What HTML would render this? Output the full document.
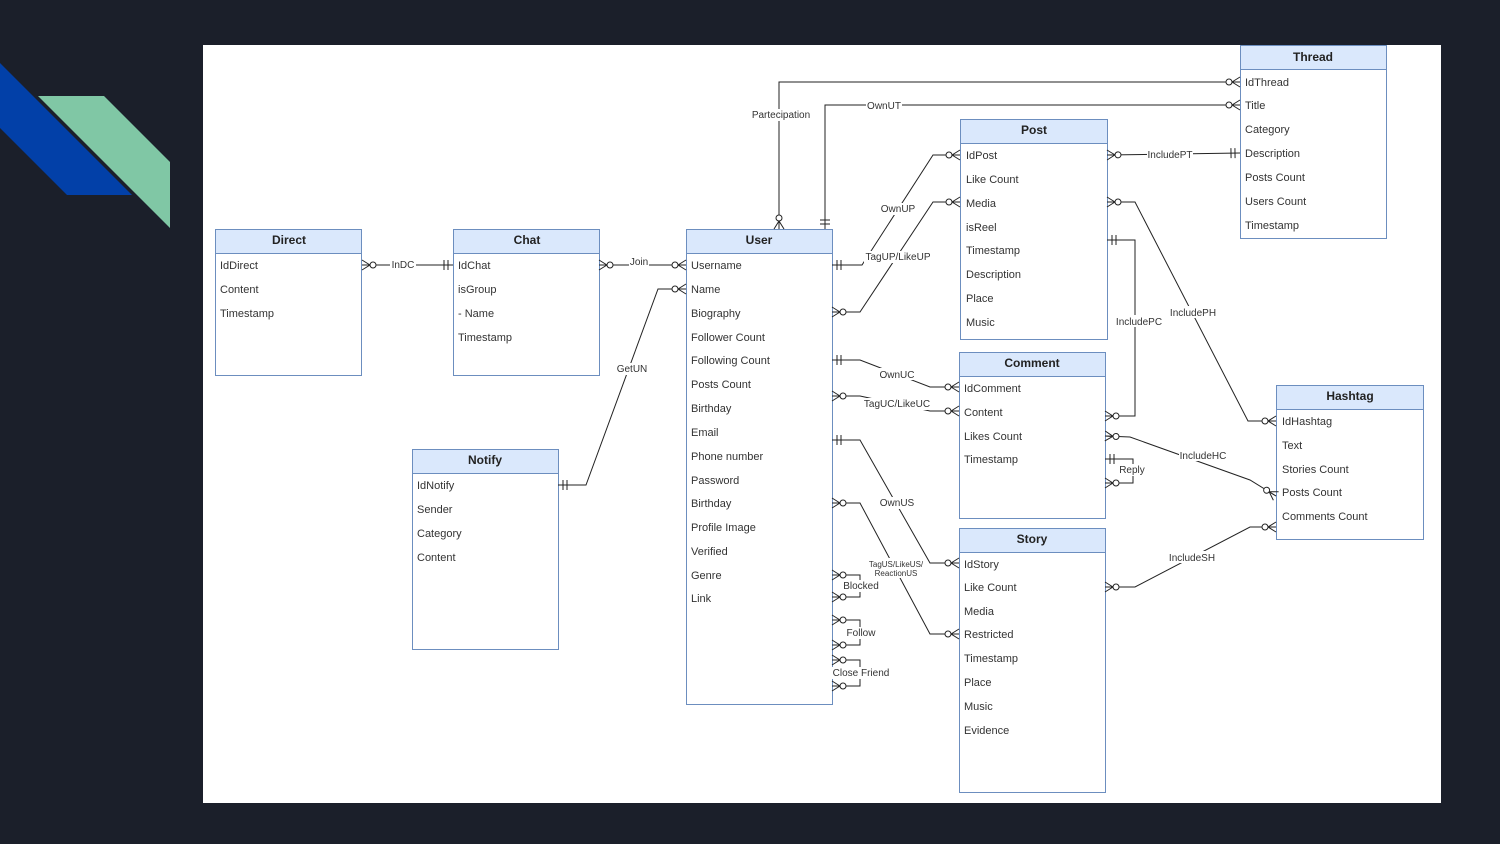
<!DOCTYPE html>
<html><head><meta charset="utf-8"><style>
html,body{margin:0;padding:0;background:#1b1f2a;width:1500px;height:844px;overflow:hidden}
svg{display:block}
text{font-family:"Liberation Sans",sans-serif;font-size:11px;fill:#333}
.h{font-weight:bold;font-size:12px;fill:#222;text-anchor:middle}
.l{font-size:10px;text-anchor:middle}
.box{fill:#fff;stroke:#6c8ebf;stroke-width:1}
.hd{fill:#dae8fc;stroke:#6c8ebf;stroke-width:1}
.c{fill:none;stroke:#222;stroke-width:1}
</style></head><body>
<svg width="1500" height="844" xmlns="http://www.w3.org/2000/svg">
<defs>
<marker id="zm" markerUnits="userSpaceOnUse" markerWidth="30" markerHeight="30" refX="0" refY="0" orient="auto-start-reverse" viewBox="-20 -10 30 20" overflow="visible">
<path d="M-8,0 L0,-5 M-8,0 L0,5 M-8,0 L0,0" stroke="#222" fill="none"/><circle cx="-11" cy="0" r="3" fill="#fff" stroke="#222"/>
</marker>
<marker id="om" markerUnits="userSpaceOnUse" markerWidth="30" markerHeight="30" refX="0" refY="0" orient="auto-start-reverse" viewBox="-20 -10 30 20" overflow="visible">
<path d="M-5,-5 L-5,5 M-9,-5 L-9,5" stroke="#222" fill="none"/>
</marker>
</defs>
<polygon points="0,63 132,195 67,195 0,128" fill="#0240a8"/>
<polygon points="38,96 104,96 170,162 170,228" fill="#80c7a5"/>
<rect x="203" y="45" width="1238" height="758" fill="#fff"/>

<!-- entities -->
<g>
<rect class="box" x="215.5" y="229.5" width="146" height="146"/><rect class="hd" x="215.5" y="229.5" width="146" height="24"/>
<text class="h" x="289" y="244">Direct</text>
<text x="220" y="269">IdDirect</text><text x="220" y="293">Content</text><text x="220" y="317">Timestamp</text>

<rect class="box" x="453.5" y="229.5" width="146" height="146"/><rect class="hd" x="453.5" y="229.5" width="146" height="24"/>
<text class="h" x="527" y="244">Chat</text>
<text x="458" y="269">IdChat</text><text x="458" y="293">isGroup</text><text x="458" y="317">- Name</text><text x="458" y="341">Timestamp</text>

<rect class="box" x="686.5" y="229.5" width="146" height="475"/><rect class="hd" x="686.5" y="229.5" width="146" height="24"/>
<text class="h" x="759" y="244">User</text>
<text x="691" y="269">Username</text><text x="691" y="293">Name</text><text x="691" y="317">Biography</text><text x="691" y="341">Follower Count</text><text x="691" y="364">Following Count</text><text x="691" y="388">Posts Count</text><text x="691" y="412">Birthday</text><text x="691" y="436">Email</text><text x="691" y="460">Phone number</text><text x="691" y="484">Password</text><text x="691" y="507">Birthday</text><text x="691" y="531">Profile Image</text><text x="691" y="555">Verified</text><text x="691" y="579">Genre</text><text x="691" y="602">Link</text>

<rect class="box" x="412.5" y="449.5" width="146" height="200"/><rect class="hd" x="412.5" y="449.5" width="146" height="24"/>
<text class="h" x="485" y="464">Notify</text>
<text x="417" y="489">IdNotify</text><text x="417" y="513">Sender</text><text x="417" y="537">Category</text><text x="417" y="561">Content</text>

<rect class="box" x="960.5" y="119.5" width="147" height="220"/><rect class="hd" x="960.5" y="119.5" width="147" height="24"/>
<text class="h" x="1034" y="134">Post</text>
<text x="966" y="159">IdPost</text><text x="966" y="183">Like Count</text><text x="966" y="207">Media</text><text x="966" y="231">isReel</text><text x="966" y="254">Timestamp</text><text x="966" y="278">Description</text><text x="966" y="302">Place</text><text x="966" y="326">Music</text>

<rect class="box" x="1240.5" y="45.5" width="146" height="193"/><rect class="hd" x="1240.5" y="45.5" width="146" height="24"/>
<text class="h" x="1313" y="61">Thread</text>
<text x="1245" y="86">IdThread</text><text x="1245" y="109">Title</text><text x="1245" y="133">Category</text><text x="1245" y="157">Description</text><text x="1245" y="181">Posts Count</text><text x="1245" y="205">Users Count</text><text x="1245" y="229">Timestamp</text>

<rect class="box" x="959.5" y="352.5" width="146" height="166"/><rect class="hd" x="959.5" y="352.5" width="146" height="24"/>
<text class="h" x="1032" y="367">Comment</text>
<text x="964" y="392">IdComment</text><text x="964" y="416">Content</text><text x="964" y="440">Likes Count</text><text x="964" y="463">Timestamp</text>

<rect class="box" x="959.5" y="528.5" width="146" height="264"/><rect class="hd" x="959.5" y="528.5" width="146" height="24"/>
<text class="h" x="1032" y="543">Story</text>
<text x="964" y="568">IdStory</text><text x="964" y="591">Like Count</text><text x="964" y="615">Media</text><text x="964" y="638">Restricted</text><text x="964" y="662">Timestamp</text><text x="964" y="686">Place</text><text x="964" y="710">Music</text><text x="964" y="734">Evidence</text>

<rect class="box" x="1276.5" y="385.5" width="147" height="154"/><rect class="hd" x="1276.5" y="385.5" width="147" height="24"/>
<text class="h" x="1350" y="400">Hashtag</text>
<text x="1282" y="425">IdHashtag</text><text x="1282" y="449">Text</text><text x="1282" y="473">Stories Count</text><text x="1282" y="496">Posts Count</text><text x="1282" y="520">Comments Count</text>
</g>

<!-- connectors -->
<g class="c">
<path d="M362,265 L453,265" marker-start="url(#zm)" marker-end="url(#om)"/>
<path d="M599,265 L686,265" marker-start="url(#zm)" marker-end="url(#zm)"/>
<path d="M558,485 L586,485 L658,289 L686,289" marker-start="url(#om)" marker-end="url(#zm)"/>
<path d="M1240,82 L779,82 L779,229" marker-start="url(#zm)" marker-end="url(#zm)"/>
<path d="M1240,105 L825,105 L825,229" marker-start="url(#zm)" marker-end="url(#om)"/>
<path d="M832,265 L862,265 L933,155 L960,155" marker-start="url(#om)" marker-end="url(#zm)"/>
<path d="M832,312 L860,312 L933,202 L960,202" marker-start="url(#zm)" marker-end="url(#zm)"/>
<path d="M832,360 L860,360 L930,387 L959,387" marker-start="url(#om)" marker-end="url(#zm)"/>
<path d="M832,396 L860,396 L930,411 L959,411" marker-start="url(#zm)" marker-end="url(#zm)"/>
<path d="M832,440 L860,440 L930,563 L959,563" marker-start="url(#om)" marker-end="url(#zm)"/>
<path d="M832,503 L860,503 L930,634 L959,634" marker-start="url(#zm)" marker-end="url(#zm)"/>
<path d="M832,575 L860,575 L860,597 L832,597" marker-start="url(#zm)" marker-end="url(#zm)"/>
<path d="M832,620 L860,620 L860,645 L832,645" marker-start="url(#zm)" marker-end="url(#zm)"/>
<path d="M832,660 L860,660 L860,686 L832,686" marker-start="url(#zm)" marker-end="url(#zm)"/>
<path d="M1107,155 L1240,153" marker-start="url(#zm)" marker-end="url(#om)"/>
<path d="M1107,202 L1135,202 L1248,421 L1276,421" marker-start="url(#zm)" marker-end="url(#zm)"/>
<path d="M1107,240 L1135,240 L1135,416 L1105,416" marker-start="url(#om)" marker-end="url(#zm)"/>
<path d="M1105,436 L1130,437 L1250,480 L1276,496" marker-start="url(#zm)" marker-end="url(#zm)"/>
<path d="M1105,459 L1133,459 L1133,483 L1105,483" marker-start="url(#om)" marker-end="url(#zm)"/>
<path d="M1105,587 L1135,587 L1250,527 L1276,527" marker-start="url(#zm)" marker-end="url(#zm)"/>
</g>

<!-- labels -->
<g>
<rect x="390" y="259" width="26" height="12" fill="#fff"/><text class="l" x="403" y="268">InDC</text>
<rect x="629" y="256" width="20" height="12" fill="#fff"/><text class="l" x="639" y="265">Join</text>
<rect x="615" y="363" width="34" height="12" fill="#fff"/><text class="l" x="632" y="372">GetUN</text>
<rect x="750" y="109" width="62" height="12" fill="#fff"/><text class="l" x="781" y="118">Partecipation</text>
<rect x="866" y="99" width="36" height="12" fill="#fff"/><text class="l" x="884" y="109">OwnUT</text>
<rect x="880" y="203" width="36" height="12" fill="#fff"/><text class="l" x="898" y="212">OwnUP</text>
<rect x="864" y="251" width="68" height="12" fill="#fff"/><text class="l" x="898" y="260">TagUP/LikeUP</text>
<rect x="879" y="368" width="36" height="12" fill="#fff"/><text class="l" x="897" y="378">OwnUC</text>
<rect x="862" y="398" width="70" height="12" fill="#fff"/><text class="l" x="897" y="407">TagUC/LikeUC</text>
<rect x="879" y="497" width="36" height="12" fill="#fff"/><text class="l" x="897" y="506">OwnUS</text>
<rect x="868" y="558" width="58" height="20" fill="#fff"/><text class="l" x="896" y="567" style="font-size:8px">TagUS/LikeUS/</text><text class="l" x="896" y="576" style="font-size:8px">ReactionUS</text>
<rect x="842" y="580" width="38" height="12" fill="#fff"/><text class="l" x="861" y="589">Blocked</text>
<rect x="845" y="627" width="32" height="12" fill="#fff"/><text class="l" x="861" y="636">Follow</text>
<rect x="832" y="667" width="58" height="12" fill="#fff"/><text class="l" x="861" y="676">Close Friend</text>
<rect x="1147" y="148" width="46" height="12" fill="#fff"/><text class="l" x="1170" y="158">IncludePT</text>
<rect x="1169" y="306" width="48" height="12" fill="#fff"/><text class="l" x="1193" y="316">IncludePH</text>
<rect x="1115" y="315" width="48" height="12" fill="#fff"/><text class="l" x="1139" y="325">IncludePC</text>
<rect x="1179" y="449" width="48" height="12" fill="#fff"/><text class="l" x="1203" y="459">IncludeHC</text>
<rect x="1118" y="464" width="28" height="12" fill="#fff"/><text class="l" x="1132" y="473">Reply</text>
<rect x="1168" y="551" width="48" height="12" fill="#fff"/><text class="l" x="1192" y="561">IncludeSH</text>
</g>
</svg>
</body></html>
